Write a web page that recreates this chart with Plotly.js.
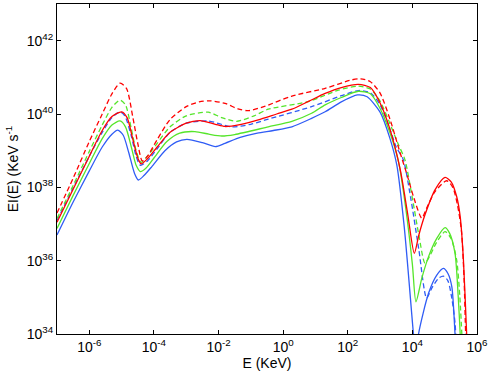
<!DOCTYPE html>
<html>
<head>
<meta charset="utf-8">
<script src="https://cdn.plot.ly/plotly-3.0.1.min.js"></script>
<style>html,body{margin:0;padding:0;background:#fff;}#chart{width:491px;height:375px;}</style>
</head>
<body>
<div id="chart"></div>
<script>
// Values, given as log10 of E (KeV) and log10 of EI(E)
const rsLogE  = [-7,-6.5,-6,-5.6,-5.3,-5.0,-4.83,-4.65,-4.5,-4.4,-4.2,-3.9,-3.5,-3.0,-2.57,-2.1,-1.8,-1.3,-0.77,-0.2,0.27,0.8,1.3,1.8,2.33,2.7,3.0,3.3,3.62,3.85,4.06,4.2,4.39,4.7,5.01,5.2,5.37,5.48,5.58,5.68,5.72];
const rsLogEI = [37.05,37.95,38.85,39.55,39.93,40.06,39.9,39.3,38.8,38.64,38.78,39.1,39.5,39.75,39.82,39.72,39.66,39.72,39.84,40.0,40.13,40.35,40.56,40.72,40.81,40.72,40.3,39.6,38.5,37.3,36.2,36.7,37.25,37.93,38.27,38.15,37.75,37.2,36.02,34.0,33.3];

const rdLogE  = [-7,-6.5,-6,-5.6,-5.3,-5.05,-4.85,-4.65,-4.5,-4.36,-4.2,-3.9,-3.5,-3.0,-2.6,-2.26,-1.8,-1.4,-1.08,-0.6,0.27,1.3,2.12,2.4,2.7,3.0,3.31,3.6,3.85,4.05,4.29,4.45,4.7,5.06,5.25,5.4,5.52,5.6,5.65,5.7];
const rdLogEI = [37.3,38.25,39.25,40.0,40.55,40.84,40.7,39.9,39.2,38.72,38.85,39.3,39.85,40.2,40.33,40.36,40.29,40.14,40.09,40.2,40.49,40.7,40.93,40.96,40.88,40.57,39.85,39.0,38.3,37.7,37.16,37.45,37.88,38.18,38.0,37.5,36.8,35.5,34.0,33.2];

const gsLogE  = [-7,-6.5,-6,-5.6,-5.3,-5.05,-4.88,-4.7,-4.55,-4.42,-4.25,-4.0,-3.6,-3.2,-2.73,-2.3,-1.9,-1.5,-0.46,0.27,0.88,1.3,1.8,2.33,2.7,3.0,3.3,3.57,3.8,4.0,4.11,4.3,4.5,4.75,5.01,5.15,5.32,5.42,5.48,5.52];
const gsLogEI = [36.88,37.78,38.65,39.33,39.7,39.81,39.65,39.1,38.6,38.43,38.52,38.8,39.25,39.48,39.52,39.45,39.4,39.44,39.65,39.8,40.02,40.25,40.45,40.62,40.55,40.15,39.5,38.7,37.4,35.9,34.88,35.55,36.11,36.6,36.9,36.75,36.2,35.0,34.0,33.3];

const gdLogE  = [-7,-6.5,-6,-5.6,-5.3,-5.05,-4.88,-4.7,-4.55,-4.4,-4.2,-3.9,-3.5,-3.0,-2.32,-1.9,-1.44,-0.9,-0.46,0.78,1.71,2.33,2.7,3.0,3.3,3.55,3.77,4.0,4.2,4.39,4.55,4.75,5.01,5.2,5.37,5.47,5.53,5.57];
const gdLogEI = [37.15,38.05,38.98,39.7,40.18,40.38,40.25,39.6,39.0,38.68,38.85,39.2,39.65,39.95,40.05,39.9,39.8,39.95,40.13,40.34,40.65,40.76,40.68,40.35,39.75,39.2,38.75,37.7,36.7,35.93,36.15,36.5,36.79,36.6,36.02,35.0,34.0,33.3];

const bsLogE  = [-7,-6.5,-6,-5.6,-5.3,-5.12,-4.95,-4.78,-4.6,-4.48,-4.3,-4.07,-3.66,-3.3,-2.98,-2.5,-2.1,-1.8,-1.33,-0.8,-0.3,0.27,0.88,1.3,1.8,2.3,2.6,3.0,3.3,3.52,3.75,4.03,4.11,4.19,4.5,4.75,4.96,5.1,5.22,5.32,5.38];
const bsLogEI = [36.7,37.6,38.45,39.1,39.45,39.56,39.42,38.95,38.38,38.2,38.33,38.56,39.0,39.24,39.31,39.22,39.11,39.2,39.36,39.48,39.55,39.65,39.88,40.06,40.33,40.52,40.47,40.05,39.35,38.6,36.9,34.03,33.3,34.0,35.11,35.6,35.79,35.65,35.29,34.0,33.0];

const bdLogE  = [-7,-6.5,-6,-5.6,-5.3,-5.05,-4.9,-4.7,-4.55,-4.42,-4.2,-3.9,-3.5,-3.0,-2.32,-1.59,-1.0,-0.46,0.88,1.8,2.33,2.7,3.0,3.3,3.5,3.72,3.95,4.2,4.44,4.6,4.81,4.96,5.1,5.22,5.32,5.37];
const bdLogEI = [37.1,37.98,38.85,39.5,39.9,40.06,39.95,39.4,38.85,38.6,38.72,39.05,39.5,39.75,39.81,39.65,39.72,39.86,40.2,40.5,40.64,40.58,40.25,39.6,39.1,38.75,37.7,36.3,34.98,35.25,35.52,35.58,35.45,34.98,34.3,33.5];

const xTickVals = [1e-6,1e-4,1e-2,1e0,1e2,1e4,1e6];
const xTickText = ['10<sup>-6</sup>','10<sup>-4</sup>','10<sup>-2</sup>','10<sup>0</sup>','10<sup>2</sup>','10<sup>4</sup>','10<sup>6</sup>'];
const yTickVals = [1e34,1e36,1e38,1e40,1e42];
const yTickText = ['10<sup>34</sup>','10<sup>36</sup>','10<sup>38</sup>','10<sup>40</sup>','10<sup>42</sup>'];

const RED = '#ff0000', GREEN = '#55e52a', BLUE = '#2f5cf5';
const pw = v => v.map(e => Math.pow(10, e));

function tr(lx, ly, color, dash) {
  return {
    x: pw(lx), y: pw(ly), type: 'scatter', mode: 'lines',
    line: {color: color, width: 1.3, dash: dash, shape: 'spline', smoothing: 0.7},
    hoverinfo: 'skip', showlegend: false
  };
}

const data = [
  tr(bdLogE, bdLogEI, BLUE, '5px,3px'),
  tr(gdLogE, gdLogEI, GREEN, '5px,3px'),
  tr(rdLogE, rdLogEI, RED, '5px,3px'),
  tr(bsLogE, bsLogEI, BLUE, 'solid'),
  tr(gsLogE, gsLogEI, GREEN, 'solid'),
  tr(rsLogE, rsLogEI, RED, 'solid')
];

const font = {family: 'Liberation Sans, Arial, sans-serif', size: 14, color: '#000'};

const layout = {
  width: 491, height: 375,
  margin: {l: 57, r: 14, t: 4, b: 41},
  paper_bgcolor: '#fff', plot_bgcolor: '#fff',
  font: font,
  xaxis: {
    type: 'log', range: [-7, 6], autorange: false,
    tickvals: xTickVals, ticktext: xTickText,
    ticks: 'inside', ticklen: 4, tickcolor: '#000', tickwidth: 1,
    showline: true, linecolor: '#000', linewidth: 1, mirror: 'ticks',
    showgrid: false, zeroline: false,
    tickfont: {size: 14},
    title: {text: 'E (KeV)', font: {size: 14}, standoff: 2}
  },
  yaxis: {
    type: 'log', range: [34, 43], autorange: false,
    tickvals: yTickVals, ticktext: yTickText,
    ticks: 'inside', ticklen: 4, tickcolor: '#000', tickwidth: 1,
    showline: true, linecolor: '#000', linewidth: 1, mirror: 'ticks',
    showgrid: false, zeroline: false,
    tickfont: {size: 14},
    title: {text: 'EI(E) (KeV s<sup>-1</sup>', font: {size: 14}, standoff: 4}
  }
};

Plotly.newPlot('chart', data, layout, {staticPlot: true, displayModeBar: false});
</script>
</body>
</html>
